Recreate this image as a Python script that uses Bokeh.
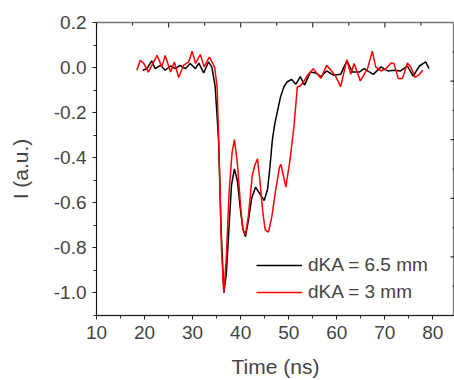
import math
from bokeh.plotting import figure
from bokeh.models import Range1d, FixedTicker, Legend, LegendItem
from bokeh.embed import file_html
from bokeh.resources import INLINE

# dKA = 6.5 mm (black)
t_black = [19.6, 20.5, 21.5, 22.2, 23.3, 24.3, 25.4, 26.4, 27.4, 28.5, 29.5, 30.6, 31.3, 32.3, 33.3, 34.0,
           34.7, 35.4, 35.9, 36.5, 37.0, 37.6, 38.1, 38.7, 39.3, 40.0, 40.5, 41.0, 41.6, 42.3, 43.1, 44.0,
           44.9, 45.6, 46.1, 46.6, 47.1, 47.6, 48.3, 49.0, 49.7, 50.6, 51.5, 52.4, 53.3, 54.5, 55.6, 56.7,
           57.9, 59.3, 60.8, 62.1, 63.3, 64.7, 65.7, 67.6, 69.2, 70.6, 71.9, 73.3, 74.7, 75.9, 77.2, 78.5, 79.2]
i_black = [-0.012, -0.005, 0.03, -0.005, 0.01, -0.012, 0.007, -0.005, 0.01, -0.005, 0.018, -0.005, 0.02, -0.024, 0.025, 0.003,
           -0.085, -0.32, -0.70, -1.0, -0.92, -0.70, -0.52, -0.45, -0.50, -0.64, -0.72, -0.75, -0.68, -0.58, -0.53, -0.56,
           -0.59, -0.54, -0.44, -0.32, -0.25, -0.20, -0.13, -0.085, -0.063, -0.053, -0.074, -0.04, -0.078, -0.02, -0.024, -0.04,
           -0.015, -0.034, -0.03, 0.03, -0.02, -0.02, -0.005, -0.03, 0.003, -0.015, -0.012, -0.015, 0.007, -0.038, 0.007, 0.025, -0.005]

# dKA = 3 mm (red)
t_red = [18.4, 19.1, 19.8, 20.8, 21.9, 22.6, 23.6, 24.3, 25.4, 26.2, 27.1, 28.1, 29.2, 29.9, 30.6, 31.6, 32.4, 33.5, 34.2,
         34.6, 35.1, 35.6, 36.0, 36.5, 37.0, 37.6, 38.2, 38.7, 39.3, 40.0, 40.5, 41.0, 41.6, 42.4, 43.0, 43.5, 44.0, 44.6,
         45.1, 45.8, 46.5, 47.2, 48.1, 48.4, 49.4, 50.2, 51.1, 51.8, 52.4, 53.1, 53.9, 55.1, 56.7, 57.9, 58.8, 59.8, 60.8,
         62.1, 62.9, 63.6, 64.9, 66.4, 67.4, 68.1, 69.2, 70.2, 71.3, 71.9, 72.8, 73.7, 74.7, 75.4, 76.3, 77.2, 77.9]
i_red = [-0.012, 0.032, 0.02, -0.02, 0.025, 0.054, 0.003, 0.054, -0.02, 0.025, -0.044, 0.01, 0.025, 0.073, 0.018, 0.058, 0.003, 0.047, 0.018,
         0.0, -0.085, -0.45, -0.80, -1.0, -0.85, -0.55, -0.38, -0.32, -0.42, -0.62, -0.72, -0.74, -0.66, -0.48, -0.43, -0.405, -0.50, -0.64,
         -0.72, -0.73, -0.66, -0.555, -0.44, -0.43, -0.53, -0.42, -0.26, -0.085, -0.082, -0.063, -0.034, -0.005, -0.048, 0.01, -0.012, -0.04, -0.085,
         0.035, -0.03, 0.018, -0.059, -0.005, 0.073, 0.003, -0.015, -0.005, 0.02, 0.018, -0.048, -0.048, 0.02, 0.003, -0.044, -0.03, -0.012]

series_labels = ["dKA = 6.5 mm", "dKA = 3 mm"]
x_major = [10, 20, 30, 40, 50, 60, 70, 80]
x_minor = [15, 25, 35, 45, 55, 65, 75, 85]
y_major = [-1.0, -0.8, -0.6, -0.4, -0.2, 0.0, 0.2]
y_minor = [-1.1, -0.9, -0.7, -0.5, -0.3, -0.1, 0.1]
y_labels = {-1.0: "-1.0", -0.8: "-0.8", -0.6: "-0.6", -0.4: "-0.4", -0.2: "-0.2", 0.0: "0.0", 0.2: "0.2"}
# tick marks of the top and right frame edges (unlabelled)
top_major = [10, 25, 40, 55, 70]
top_minor = [17.5, 32.5, 47.5, 62.5, 77.5]
right_major = [-0.84, -0.58, -0.32, -0.06]
right_minor = [-0.97, -0.71, -0.45, -0.19, 0.07]

X0, X1 = 10, 84.5
Y0, Y1 = -1.1, 0.2
FONT = "Liberation Sans"

p = figure(width=454, height=380, output_backend="svg", toolbar_location=None,
           x_range=Range1d(X0, X1), y_range=Range1d(Y0, Y1),
           min_border_left=96, min_border_top=22, min_border_right=0, min_border_bottom=63)
p.outline_line_color = "#7a7a7a"
p.outline_line_width = 1.3
p.xgrid.visible = False
p.ygrid.visible = False
p.background_fill_color = "white"

xa = p.xaxis[0]
xa.ticker = FixedTicker(ticks=x_major, minor_ticks=x_minor)
xa.axis_label = "Time (ns)"
xa.axis_label_text_font = FONT
xa.axis_label_text_font_size = "21px"
xa.axis_label_text_font_style = "normal"
xa.axis_label_standoff = 13
xa.major_label_text_font = FONT
xa.major_label_text_font_size = "19px"
xa.major_label_standoff = 6
xa.major_tick_out = 4
xa.major_tick_in = 0
xa.minor_tick_out = 3
xa.minor_tick_in = 0
xa.axis_line_color = "#222222"
xa.major_tick_line_color = "#222222"
xa.minor_tick_line_color = "#222222"

ya = p.yaxis[0]
ya.ticker = FixedTicker(ticks=y_major, minor_ticks=y_minor)
ya.major_label_overrides = y_labels
ya.axis_label = "I (a.u.)"
ya.axis_label_text_font = FONT
ya.axis_label_text_font_size = "21px"
ya.axis_label_text_font_style = "normal"
ya.axis_label_standoff = 19
ya.major_label_text_font = FONT
ya.major_label_text_font_size = "19px"
ya.major_label_standoff = 6
ya.major_tick_out = 4
ya.major_tick_in = 0
ya.minor_tick_out = 3
ya.minor_tick_in = 0
ya.axis_line_color = "#111111"
ya.major_tick_line_color = "#222222"
ya.minor_tick_line_color = "#222222"

# inward ticks on the top and right frame edges
p.scatter(top_major, [Y1] * len(top_major), marker="dash", size=10, angle=math.pi / 2,
          line_color="#333333", line_width=1.2)
p.scatter(top_minor, [Y1] * len(top_minor), marker="dash", size=6, angle=math.pi / 2,
          line_color="#333333", line_width=1.2)
p.scatter([X1] * len(right_major), right_major, marker="dash", size=8,
          line_color="#333333", line_width=1.2)
p.scatter([X1] * len(right_minor), right_minor, marker="dash", size=4,
          line_color="#333333", line_width=1.2)

rb = p.line(t_black, i_black, line_color="black", line_width=1.5)
rr = p.line(t_red, i_red, line_color="#ff0000", line_width=1.5)

legend = Legend(items=[LegendItem(label=series_labels[0], renderers=[rb]),
                       LegendItem(label=series_labels[1], renderers=[rr])],
                location=(160, 12), border_line_color=None, background_fill_alpha=0,
                padding=0, margin=0, spacing=5, glyph_width=46, label_standoff=6,
                label_text_font=FONT, label_text_font_size="19px")
p.add_layout(legend)

open("out.html", "w").write(file_html(p, INLINE))
